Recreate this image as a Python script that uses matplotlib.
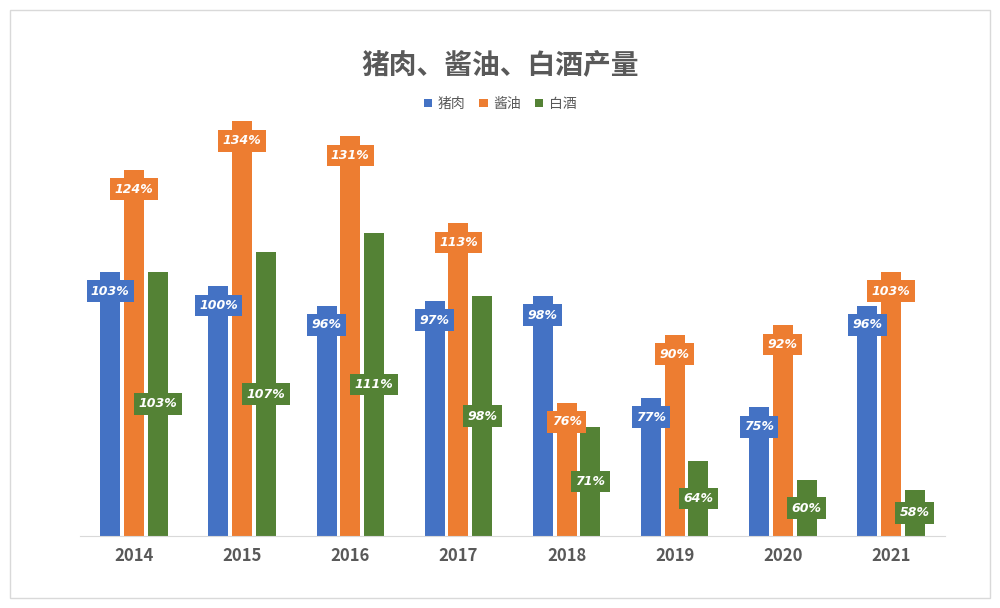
import matplotlib
matplotlib.use("Agg")
import matplotlib.pyplot as plt
import numpy as np
from matplotlib.patches import Rectangle

plt.rcParams['font.family'] = ['Noto Sans CJK SC', 'DejaVu Sans']

years = ['2014', '2015', '2016', '2017', '2018', '2019', '2020', '2021']
pork = [103, 100, 96, 97, 98, 77, 75, 96]
soy = [124, 134, 131, 113, 76, 90, 92, 103]
liquor = [103, 107, 111, 98, 71, 64, 60, 58]
series_names = ['猪肉', '酱油', '白酒']
colors = ['#4472C4', '#ED7D31', '#548235']

fig = plt.figure(figsize=(10, 6.08), dpi=100)
fig.patches.append(Rectangle((0.01, 0.016), 0.98, 0.968, transform=fig.transFigure,
                             fill=False, edgecolor='#D9D9D9', lw=1))
ax = fig.add_axes([0.08, 0.118, 0.865, 0.73])
ymin, ymax = 48.4, 140
ax.set_ylim(ymin, ymax)
x = np.arange(len(years))
w = 0.185
step = 0.22
for i, (vals, c) in enumerate(zip([pork, soy, liquor], colors)):
    xs = x + (i - 1) * step
    ax.bar(xs, np.array(vals) - ymin, bottom=ymin, width=w, color=c, label=series_names[i])
    for xi, v in zip(xs, vals):
        if i < 2:
            yl = v - 4.0
        else:
            yl = (v + ymin) / 2
        ax.text(xi, yl, f'{v}%', ha='center', va='center', color='white', fontsize=9,
                style='italic', fontweight='bold', family='DejaVu Sans',
                bbox=dict(boxstyle='square,pad=0.35', fc=c, ec='none'))
ax.set_xlim(-0.5, len(years) - 0.5)
ax.set_xticks(x)
ax.set_xticklabels(years, fontsize=12, fontweight='bold', color='#595959')
ax.tick_params(axis='x', length=0, pad=8)
ax.set_yticks([])
for s in ['top', 'right', 'left']:
    ax.spines[s].set_visible(False)
ax.spines['bottom'].set_color('#D9D9D9')
fig.text(0.5, 0.893, '猪肉、酱油、白酒产量', ha='center', va='center', fontsize=20,
         fontweight='bold', color='#595959')
fig.legend(loc='center', bbox_to_anchor=(0.5, 0.829), ncol=3, frameon=False,
           fontsize=10, handlelength=0.6, handleheight=0.6, columnspacing=1.0,
           handletextpad=0.4, labelcolor='#595959')
fig.savefig('out.png', dpi=100)
